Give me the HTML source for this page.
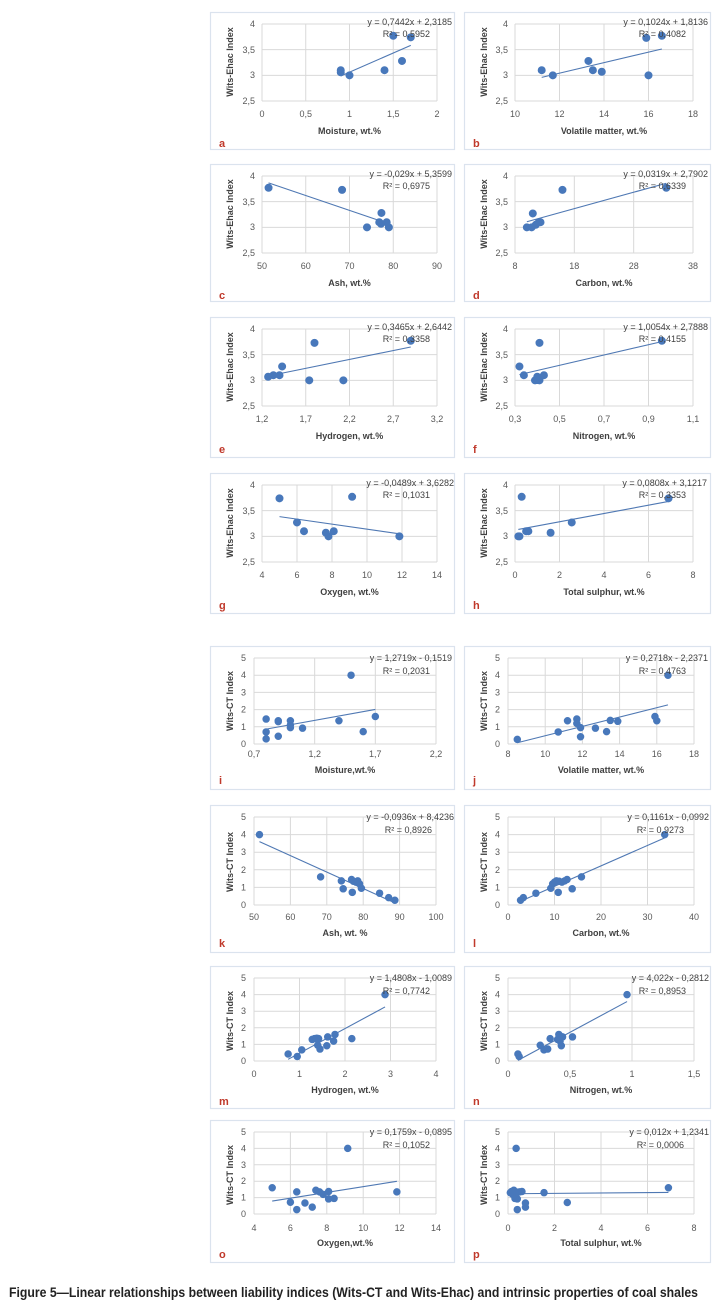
<!DOCTYPE html>
<html><head><meta charset="utf-8"><style>
html,body{margin:0;padding:0;background:#fff}
svg{display:block}
.pb{fill:#fff;stroke:#dbe3ee;stroke-width:1.2}
.g{stroke:#d9d9d9;stroke-width:1;fill:none;vector-effect:non-scaling-stroke}
.tl{stroke:#4f78b3;stroke-width:1.1;fill:none;vector-effect:non-scaling-stroke}
.pt{stroke:#4878bb;stroke-width:8;stroke-linecap:round;fill:none;vector-effect:non-scaling-stroke}
.pt2{stroke:#4878bb;stroke-width:7.5;stroke-linecap:round;fill:none;vector-effect:non-scaling-stroke}
text{font-family:"Liberation Sans",sans-serif}
.tk{font-size:9px;fill:#595959}
.yk{font-size:9px;fill:#595959;text-anchor:end}
.xk{font-size:9px;fill:#595959;text-anchor:middle}
.at{font-size:9px;font-weight:bold;fill:#404040;text-anchor:middle}
.eq{font-size:9px;fill:#404040;text-anchor:end}
.lt{font-size:11px;font-weight:bold;fill:#c0392b}
</style></head><body>
<svg width="727" height="1305" viewBox="0 0 727 1305" xmlns="http://www.w3.org/2000/svg">

<!-- a -->
<g transform="translate(210,12)">
<rect class="pb" x="0.5" y="0.5" width="244" height="137"/>
<text class="at" transform="translate(23,50) rotate(-90)">Wits-Ehac Index</text>
<text class="yk" x="45" y="15">4</text><text class="yk" x="45" y="41">3,5</text><text class="yk" x="45" y="66">3</text><text class="yk" x="45" y="92">2,5</text>
<text class="xk" x="52" y="105">0</text><text class="xk" x="95.75" y="105">0,5</text><text class="xk" x="139.5" y="105">1</text><text class="xk" x="183.25" y="105">1,5</text><text class="xk" x="227" y="105">2</text>
<svg x="52" y="12" width="175" height="77" viewBox="0 -4 2 1.5" preserveAspectRatio="none" overflow="visible">
<path class="g" d="M0 -4V-2.5M0.5 -4V-2.5M1 -4V-2.5M1.5 -4V-2.5M2 -4V-2.5M0 -4H2M0 -3.5H2M0 -3H2M0 -2.5H2"/>
<path class="tl" d="M0.9 -2.988L1.7 -3.584"/>
<path class="pt" d="M0.9 -3.1h0M0.9 -3.06h0M1 -3h0M1.4 -3.1h0M1.5 -3.77h0M1.6 -3.28h0M1.7 -3.74h0"/>
</svg>
<text class="eq" x="242" y="13">y = 0,7442x + 2,3185</text><text class="eq" x="220" y="25">R² = 0,5952</text>
<text class="at" x="139.5" y="122">Moisture, wt.%</text>
<text class="lt" x="9" y="135">a</text>
</g>

<!-- b -->
<g transform="translate(464,12)">
<rect class="pb" x="0.5" y="0.5" width="246" height="137"/>
<text class="at" transform="translate(23,50) rotate(-90)">Wits-Ehac Index</text>
<text class="yk" x="44" y="15">4</text><text class="yk" x="44" y="41">3,5</text><text class="yk" x="44" y="66">3</text><text class="yk" x="44" y="92">2,5</text>
<text class="xk" x="51" y="105">10</text><text class="xk" x="95.5" y="105">12</text><text class="xk" x="140" y="105">14</text><text class="xk" x="184.5" y="105">16</text><text class="xk" x="229" y="105">18</text>
<svg x="51" y="12" width="178" height="77" viewBox="10 -4 8 1.5" preserveAspectRatio="none" overflow="visible">
<path class="g" d="M10 -4V-2.5M12 -4V-2.5M14 -4V-2.5M16 -4V-2.5M18 -4V-2.5M10 -4H18M10 -3.5H18M10 -3H18M10 -2.5H18"/>
<path class="tl" d="M11.2 -2.96L16.6 -3.513"/>
<path class="pt" d="M11.2 -3.1h0M11.7 -3h0M13.3 -3.28h0M13.5 -3.1h0M13.9 -3.07h0M15.9 -3.73h0M16 -3h0M16.6 -3.77h0"/>
</svg>
<text class="eq" x="244" y="13">y = 0,1024x + 1,8136</text><text class="eq" x="222" y="25">R² = 0,4082</text>
<text class="at" x="140" y="122">Volatile matter, wt.%</text>
<text class="lt" x="9" y="135">b</text>
</g>

<!-- c -->
<g transform="translate(210,164)">
<rect class="pb" x="0.5" y="0.5" width="244" height="137"/>
<text class="at" transform="translate(23,50) rotate(-90)">Wits-Ehac Index</text>
<text class="yk" x="45" y="15">4</text><text class="yk" x="45" y="41">3,5</text><text class="yk" x="45" y="66">3</text><text class="yk" x="45" y="92">2,5</text>
<text class="xk" x="52" y="105">50</text><text class="xk" x="95.75" y="105">60</text><text class="xk" x="139.5" y="105">70</text><text class="xk" x="183.25" y="105">80</text><text class="xk" x="227" y="105">90</text>
<svg x="52" y="12" width="175" height="77" viewBox="50 -4 40 1.5" preserveAspectRatio="none" overflow="visible">
<path class="g" d="M50 -4V-2.5M60 -4V-2.5M70 -4V-2.5M80 -4V-2.5M90 -4V-2.5M50 -4H90M50 -3.5H90M50 -3H90M50 -2.5H90"/>
<path class="tl" d="M51.5 -3.866L79 -3.069"/>
<path class="pt" d="M51.5 -3.77h0M68.3 -3.73h0M74 -3h0M76.8 -3.1h0M77.2 -3.07h0M77.3 -3.28h0M78.5 -3.1h0M79 -3h0"/>
</svg>
<text class="eq" x="242" y="13">y = -0,029x + 5,3599</text><text class="eq" x="220" y="25">R² = 0,6975</text>
<text class="at" x="139.5" y="122">Ash, wt.%</text>
<text class="lt" x="9" y="135">c</text>
</g>

<!-- d -->
<g transform="translate(464,164)">
<rect class="pb" x="0.5" y="0.5" width="246" height="137"/>
<text class="at" transform="translate(23,50) rotate(-90)">Wits-Ehac Index</text>
<text class="yk" x="44" y="15">4</text><text class="yk" x="44" y="41">3,5</text><text class="yk" x="44" y="66">3</text><text class="yk" x="44" y="92">2,5</text>
<text class="xk" x="51" y="105">8</text><text class="xk" x="110.3" y="105">18</text><text class="xk" x="169.7" y="105">28</text><text class="xk" x="229" y="105">38</text>
<svg x="51" y="12" width="178" height="77" viewBox="8 -4 30 1.5" preserveAspectRatio="none" overflow="visible">
<path class="g" d="M8 -4V-2.5M18 -4V-2.5M28 -4V-2.5M38 -4V-2.5M8 -4H38M8 -3.5H38M8 -3H38M8 -2.5H38"/>
<path class="tl" d="M10 -3.109L33.5 -3.859"/>
<path class="pt" d="M10 -3h0M10.8 -3h0M11 -3.27h0M11.5 -3.05h0M12 -3.1h0M12.3 -3.1h0M16 -3.73h0M33.5 -3.77h0"/>
</svg>
<text class="eq" x="244" y="13">y = 0,0319x + 2,7902</text><text class="eq" x="222" y="25">R² = 0,6339</text>
<text class="at" x="140" y="122">Carbon, wt.%</text>
<text class="lt" x="9" y="135">d</text>
</g>

<!-- e -->
<g transform="translate(210,317)">
<rect class="pb" x="0.5" y="0.5" width="244" height="140"/>
<text class="at" transform="translate(23,50) rotate(-90)">Wits-Ehac Index</text>
<text class="yk" x="45" y="15">4</text><text class="yk" x="45" y="41">3,5</text><text class="yk" x="45" y="66">3</text><text class="yk" x="45" y="92">2,5</text>
<text class="xk" x="52" y="105">1,2</text><text class="xk" x="95.75" y="105">1,7</text><text class="xk" x="139.5" y="105">2,2</text><text class="xk" x="183.25" y="105">2,7</text><text class="xk" x="227" y="105">3,2</text>
<svg x="52" y="12" width="175" height="77" viewBox="1.2 -4 2 1.5" preserveAspectRatio="none" overflow="visible">
<path class="g" d="M1.2 -4V-2.5M1.7 -4V-2.5M2.2 -4V-2.5M2.7 -4V-2.5M3.2 -4V-2.5M1.2 -4H3.2M1.2 -3.5H3.2M1.2 -3H3.2M1.2 -2.5H3.2"/>
<path class="tl" d="M1.27 -3.084L2.9 -3.649"/>
<path class="pt" d="M1.27 -3.07h0M1.33 -3.1h0M1.4 -3.1h0M1.43 -3.27h0M1.74 -3h0M1.8 -3.73h0M2.13 -3h0M2.9 -3.77h0"/>
</svg>
<text class="eq" x="242" y="13">y = 0,3465x + 2,6442</text><text class="eq" x="220" y="25">R² = 0,3358</text>
<text class="at" x="139.5" y="122">Hydrogen, wt.%</text>
<text class="lt" x="9" y="136">e</text>
</g>

<!-- f -->
<g transform="translate(464,317)">
<rect class="pb" x="0.5" y="0.5" width="246" height="140"/>
<text class="at" transform="translate(23,50) rotate(-90)">Wits-Ehac Index</text>
<text class="yk" x="44" y="15">4</text><text class="yk" x="44" y="41">3,5</text><text class="yk" x="44" y="66">3</text><text class="yk" x="44" y="92">2,5</text>
<text class="xk" x="51" y="105">0,3</text><text class="xk" x="95.5" y="105">0,5</text><text class="xk" x="140" y="105">0,7</text><text class="xk" x="184.5" y="105">0,9</text><text class="xk" x="229" y="105">1,1</text>
<svg x="51" y="12" width="178" height="77" viewBox="0.3 -4 0.8 1.5" preserveAspectRatio="none" overflow="visible">
<path class="g" d="M0.3 -4V-2.5M0.5 -4V-2.5M0.7 -4V-2.5M0.9 -4V-2.5M1.1 -4V-2.5M0.3 -4H1.1M0.3 -3.5H1.1M0.3 -3H1.1M0.3 -2.5H1.1"/>
<path class="tl" d="M0.32 -3.111L0.96 -3.754"/>
<path class="pt" d="M0.32 -3.27h0M0.34 -3.1h0M0.39 -3h0M0.4 -3.07h0M0.41 -3h0M0.41 -3.73h0M0.43 -3.1h0M0.96 -3.77h0"/>
</svg>
<text class="eq" x="244" y="13">y = 1,0054x + 2,7888</text><text class="eq" x="222" y="25">R² = 0,4155</text>
<text class="at" x="140" y="122">Nitrogen, wt.%</text>
<text class="lt" x="9" y="136">f</text>
</g>

<!-- g -->
<g transform="translate(210,473)">
<rect class="pb" x="0.5" y="0.5" width="244" height="140"/>
<text class="at" transform="translate(23,50) rotate(-90)">Wits-Ehac Index</text>
<text class="yk" x="45" y="15">4</text><text class="yk" x="45" y="41">3,5</text><text class="yk" x="45" y="66">3</text><text class="yk" x="45" y="92">2,5</text>
<text class="xk" x="52" y="105">4</text><text class="xk" x="87" y="105">6</text><text class="xk" x="122" y="105">8</text><text class="xk" x="157" y="105">10</text><text class="xk" x="192" y="105">12</text><text class="xk" x="227" y="105">14</text>
<svg x="52" y="12" width="175" height="77" viewBox="4 -4 10 1.5" preserveAspectRatio="none" overflow="visible">
<path class="g" d="M4 -4V-2.5M6 -4V-2.5M8 -4V-2.5M10 -4V-2.5M12 -4V-2.5M14 -4V-2.5M4 -4H14M4 -3.5H14M4 -3H14M4 -2.5H14"/>
<path class="tl" d="M5 -3.384L11.85 -3.049"/>
<path class="pt" d="M5 -3.74h0M6 -3.27h0M6.4 -3.1h0M7.65 -3.07h0M7.8 -3h0M8.1 -3.1h0M9.15 -3.77h0M11.85 -3h0"/>
</svg>
<text class="eq" x="244" y="13">y = -0,0489x + 3,6282</text><text class="eq" x="220" y="25">R² = 0,1031</text>
<text class="at" x="139.5" y="122">Oxygen, wt.%</text>
<text class="lt" x="9" y="136">g</text>
</g>

<!-- h -->
<g transform="translate(464,473)">
<rect class="pb" x="0.5" y="0.5" width="246" height="140"/>
<text class="at" transform="translate(23,50) rotate(-90)">Wits-Ehac Index</text>
<text class="yk" x="44" y="15">4</text><text class="yk" x="44" y="41">3,5</text><text class="yk" x="44" y="66">3</text><text class="yk" x="44" y="92">2,5</text>
<text class="xk" x="51" y="105">0</text><text class="xk" x="95.5" y="105">2</text><text class="xk" x="140" y="105">4</text><text class="xk" x="184.5" y="105">6</text><text class="xk" x="229" y="105">8</text>
<svg x="51" y="12" width="178" height="77" viewBox="0 -4 8 1.5" preserveAspectRatio="none" overflow="visible">
<path class="g" d="M0 -4V-2.5M2 -4V-2.5M4 -4V-2.5M6 -4V-2.5M8 -4V-2.5M0 -4H8M0 -3.5H8M0 -3H8M0 -2.5H8"/>
<path class="tl" d="M0.15 -3.134L6.9 -3.679"/>
<path class="pt" d="M0.15 -3h0M0.2 -3h0M0.3 -3.77h0M0.5 -3.1h0M0.6 -3.1h0M1.6 -3.07h0M2.55 -3.27h0M6.9 -3.74h0"/>
</svg>
<text class="eq" x="243" y="13">y = 0,0808x + 3,1217</text><text class="eq" x="222" y="25">R² = 0,3353</text>
<text class="at" x="140" y="122">Total sulphur, wt.%</text>
<text class="lt" x="9" y="136">h</text>
</g>

<!-- i -->
<g transform="translate(210,646)">
<rect class="pb" x="0.5" y="0.5" width="244" height="143"/>
<text class="at" transform="translate(23,55) rotate(-90)">Wits-CT Index</text>
<text class="yk" x="36" y="15">5</text><text class="yk" x="36" y="32">4</text><text class="yk" x="36" y="49.5">3</text><text class="yk" x="36" y="66.5">2</text><text class="yk" x="36" y="84">1</text><text class="yk" x="36" y="101">0</text>
<text class="xk" x="44" y="111">0,7</text><text class="xk" x="104.7" y="111">1,2</text><text class="xk" x="165.3" y="111">1,7</text><text class="xk" x="226" y="111">2,2</text>
<svg x="44" y="12" width="182" height="86" viewBox="0.7 -5 1.5 5" preserveAspectRatio="none" overflow="visible">
<path class="g" d="M0.7 -5V0M1.2 -5V0M1.7 -5V0M2.2 -5V0M0.7 -5H2.2M0.7 -4H2.2M0.7 -3H2.2M0.7 -2H2.2M0.7 -1H2.2M0.7 0H2.2"/>
<path class="tl" d="M0.8 -0.866L1.7 -2.01"/>
<path class="pt2" d="M0.8 -1.45h0M0.8 -0.7h0M0.8 -0.3h0M0.9 -1.35h0M0.9 -1.3h0M0.9 -0.45h0M1 -1.35h0M1 -1.1h0M1 -0.95h0M1.1 -0.92h0M1.4 -1.35h0M1.5 -4h0M1.6 -0.72h0M1.7 -1.6h0"/>
</svg>
<text class="eq" x="242" y="15">y = 1,2719x - 0,1519</text><text class="eq" x="220" y="28">R² = 0,2031</text>
<text class="at" x="135" y="127">Moisture,wt.%</text>
<text class="lt" x="9" y="138">i</text>
</g>

<!-- j -->
<g transform="translate(464,646)">
<rect class="pb" x="0.5" y="0.5" width="246" height="143"/>
<text class="at" transform="translate(23,55) rotate(-90)">Wits-CT Index</text>
<text class="yk" x="36" y="15">5</text><text class="yk" x="36" y="32">4</text><text class="yk" x="36" y="49.5">3</text><text class="yk" x="36" y="66.5">2</text><text class="yk" x="36" y="84">1</text><text class="yk" x="36" y="101">0</text>
<text class="xk" x="44" y="111">8</text><text class="xk" x="81.2" y="111">10</text><text class="xk" x="118.4" y="111">12</text><text class="xk" x="155.6" y="111">14</text><text class="xk" x="192.8" y="111">16</text><text class="xk" x="230" y="111">18</text>
<svg x="44" y="12" width="186" height="86" viewBox="8 -5 10 5" preserveAspectRatio="none" overflow="visible">
<path class="g" d="M8 -5V0M10 -5V0M12 -5V0M14 -5V0M16 -5V0M18 -5V0M8 -5H18M8 -4H18M8 -3H18M8 -2H18M8 -1H18M8 0H18"/>
<path class="tl" d="M8.5 -0.073L16.6 -2.275"/>
<path class="pt2" d="M8.5 -0.27h0M10.7 -0.7h0M11.2 -1.35h0M11.7 -1.45h0M11.7 -1.2h0M11.9 -0.95h0M11.9 -0.42h0M12.7 -0.92h0M13.3 -0.72h0M13.5 -1.37h0M13.9 -1.32h0M15.9 -1.6h0M16 -1.35h0M16.6 -4h0"/>
</svg>
<text class="eq" x="244" y="15">y = 0,2718x - 2,2371</text><text class="eq" x="222" y="28">R² = 0,4763</text>
<text class="at" x="137" y="127">Volatile matter, wt.%</text>
<text class="lt" x="9" y="138">j</text>
</g>

<!-- k -->
<g transform="translate(210,805)">
<rect class="pb" x="0.5" y="0.5" width="244" height="147"/>
<text class="at" transform="translate(23,57) rotate(-90)">Wits-CT Index</text>
<text class="yk" x="36" y="15">5</text><text class="yk" x="36" y="32.6">4</text><text class="yk" x="36" y="50.2">3</text><text class="yk" x="36" y="67.8">2</text><text class="yk" x="36" y="85.4">1</text><text class="yk" x="36" y="103">0</text>
<text class="xk" x="44" y="115">50</text><text class="xk" x="80.4" y="115">60</text><text class="xk" x="116.8" y="115">70</text><text class="xk" x="153.2" y="115">80</text><text class="xk" x="189.6" y="115">90</text><text class="xk" x="226" y="115">100</text>
<svg x="44" y="12" width="182" height="88" viewBox="50 -5 50 5" preserveAspectRatio="none" overflow="visible">
<path class="g" d="M50 -5V0M60 -5V0M70 -5V0M80 -5V0M90 -5V0M100 -5V0M50 -5H100M50 -4H100M50 -3H100M50 -2H100M50 -1H100M50 0H100"/>
<path class="tl" d="M51.5 -3.603L88.7 -0.121"/>
<path class="pt2" d="M51.5 -4h0M68.3 -1.6h0M74 -1.37h0M74.5 -0.92h0M76.8 -1.45h0M77 -0.72h0M77.3 -1.35h0M78 -1.3h0M78.5 -1.37h0M79 -1.2h0M79.5 -0.95h0M84.5 -0.67h0M87 -0.42h0M88.7 -0.27h0"/>
</svg>
<text class="eq" x="244" y="15">y = -0,0936x + 8,4236</text><text class="eq" x="222" y="28">R² = 0,8926</text>
<text class="at" x="135" y="131">Ash, wt. %</text>
<text class="lt" x="9" y="142">k</text>
</g>

<!-- l -->
<g transform="translate(464,805)">
<rect class="pb" x="0.5" y="0.5" width="246" height="147"/>
<text class="at" transform="translate(23,57) rotate(-90)">Wits-CT Index</text>
<text class="yk" x="36" y="15">5</text><text class="yk" x="36" y="32.6">4</text><text class="yk" x="36" y="50.2">3</text><text class="yk" x="36" y="67.8">2</text><text class="yk" x="36" y="85.4">1</text><text class="yk" x="36" y="103">0</text>
<text class="xk" x="44" y="115">0</text><text class="xk" x="90.5" y="115">10</text><text class="xk" x="137" y="115">20</text><text class="xk" x="183.5" y="115">30</text><text class="xk" x="230" y="115">40</text>
<svg x="44" y="12" width="186" height="88" viewBox="0 -5 40 5" preserveAspectRatio="none" overflow="visible">
<path class="g" d="M0 -5V0M10 -5V0M20 -5V0M30 -5V0M40 -5V0M0 -5H40M0 -4H40M0 -3H40M0 -2H40M0 -1H40M0 0H40"/>
<path class="tl" d="M2.7 -0.214L33.7 -3.813"/>
<path class="pt2" d="M2.7 -0.27h0M3.3 -0.42h0M6 -0.67h0M9.2 -0.95h0M9.6 -1.2h0M10 -1.3h0M10.4 -1.37h0M10.8 -0.72h0M11 -1.35h0M11.6 -1.3h0M12.2 -1.37h0M12.7 -1.45h0M13.8 -0.92h0M15.8 -1.6h0M33.7 -4h0"/>
</svg>
<text class="eq" x="245" y="15">y = 0,1161x - 0,0992</text><text class="eq" x="220" y="28">R² = 0,9273</text>
<text class="at" x="137" y="131">Carbon, wt.%</text>
<text class="lt" x="9" y="142">l</text>
</g>

<!-- m -->
<g transform="translate(210,966)">
<rect class="pb" x="0.5" y="0.5" width="244" height="142"/>
<text class="at" transform="translate(23,55) rotate(-90)">Wits-CT Index</text>
<text class="yk" x="36" y="15">5</text><text class="yk" x="36" y="31.6">4</text><text class="yk" x="36" y="48.2">3</text><text class="yk" x="36" y="64.8">2</text><text class="yk" x="36" y="81.4">1</text><text class="yk" x="36" y="98">0</text>
<text class="xk" x="44" y="111">0</text><text class="xk" x="89.5" y="111">1</text><text class="xk" x="135" y="111">2</text><text class="xk" x="180.5" y="111">3</text><text class="xk" x="226" y="111">4</text>
<svg x="44" y="12" width="182" height="83" viewBox="0 -5 4 5" preserveAspectRatio="none" overflow="visible">
<path class="g" d="M0 -5V0M1 -5V0M2 -5V0M3 -5V0M4 -5V0M0 -5H4M0 -4H4M0 -3H4M0 -2H4M0 -1H4M0 0H4"/>
<path class="tl" d="M0.75 -0.102L2.88 -3.256"/>
<path class="pt2" d="M0.75 -0.42h0M0.95 -0.27h0M1.05 -0.67h0M1.28 -1.3h0M1.33 -1.35h0M1.38 -1.37h0M1.42 -1.35h0M1.4 -0.95h0M1.45 -0.72h0M1.6 -0.92h0M1.62 -1.45h0M1.75 -1.2h0M1.78 -1.6h0M2.15 -1.35h0M2.88 -4h0"/>
</svg>
<text class="eq" x="242" y="15">y = 1,4808x - 1,0089</text><text class="eq" x="220" y="28">R² = 0,7742</text>
<text class="at" x="135" y="127">Hydrogen, wt.%</text>
<text class="lt" x="9" y="139">m</text>
</g>

<!-- n -->
<g transform="translate(464,966)">
<rect class="pb" x="0.5" y="0.5" width="246" height="142"/>
<text class="at" transform="translate(23,55) rotate(-90)">Wits-CT Index</text>
<text class="yk" x="36" y="15">5</text><text class="yk" x="36" y="31.6">4</text><text class="yk" x="36" y="48.2">3</text><text class="yk" x="36" y="64.8">2</text><text class="yk" x="36" y="81.4">1</text><text class="yk" x="36" y="98">0</text>
<text class="xk" x="44" y="111">0</text><text class="xk" x="106" y="111">0,5</text><text class="xk" x="168" y="111">1</text><text class="xk" x="230" y="111">1,5</text>
<svg x="44" y="12" width="186" height="83" viewBox="0 -5 1.5 5" preserveAspectRatio="none" overflow="visible">
<path class="g" d="M0 -5V0M0.5 -5V0M1 -5V0M1.5 -5V0M0 -5H1.5M0 -4H1.5M0 -3H1.5M0 -2H1.5M0 -1H1.5M0 0H1.5"/>
<path class="tl" d="M0.08 -0.04L0.96 -3.58"/>
<path class="pt2" d="M0.08 -0.42h0M0.09 -0.27h0M0.26 -0.95h0M0.29 -0.67h0M0.32 -0.72h0M0.34 -1.35h0M0.4 -1.3h0M0.41 -1.6h0M0.42 -1.2h0M0.43 -0.92h0M0.44 -1.45h0M0.52 -1.45h0M0.96 -4h0"/>
</svg>
<text class="eq" x="245" y="15">y = 4,022x - 0,2812</text><text class="eq" x="222" y="28">R² = 0,8953</text>
<text class="at" x="137" y="127">Nitrogen, wt.%</text>
<text class="lt" x="9" y="139">n</text>
</g>

<!-- o -->
<g transform="translate(210,1120)">
<rect class="pb" x="0.5" y="0.5" width="244" height="142"/>
<text class="at" transform="translate(23,55) rotate(-90)">Wits-CT Index</text>
<text class="yk" x="36" y="15">5</text><text class="yk" x="36" y="31.4">4</text><text class="yk" x="36" y="47.8">3</text><text class="yk" x="36" y="64.2">2</text><text class="yk" x="36" y="80.6">1</text><text class="yk" x="36" y="97">0</text>
<text class="xk" x="44" y="111">4</text><text class="xk" x="80.4" y="111">6</text><text class="xk" x="116.8" y="111">8</text><text class="xk" x="153.2" y="111">10</text><text class="xk" x="189.6" y="111">12</text><text class="xk" x="226" y="111">14</text>
<svg x="44" y="12" width="182" height="82" viewBox="4 -5 10 5" preserveAspectRatio="none" overflow="visible">
<path class="g" d="M4 -5V0M6 -5V0M8 -5V0M10 -5V0M12 -5V0M14 -5V0M4 -5H14M4 -4H14M4 -3H14M4 -2H14M4 -1H14M4 0H14"/>
<path class="tl" d="M5 -0.79L11.85 -1.995"/>
<path class="pt2" d="M5 -1.6h0M6 -0.72h0M6.35 -1.35h0M6.35 -0.27h0M6.8 -0.67h0M7.2 -0.42h0M7.4 -1.45h0M7.6 -1.35h0M7.8 -1.2h0M8.1 -1.37h0M8.1 -0.92h0M8.4 -0.95h0M9.15 -4h0M11.85 -1.35h0"/>
</svg>
<text class="eq" x="242" y="15">y = 0,1759x - 0,0895</text><text class="eq" x="220" y="28">R² = 0,1052</text>
<text class="at" x="135" y="126">Oxygen,wt.%</text>
<text class="lt" x="9" y="138">o</text>
</g>

<!-- p -->
<g transform="translate(464,1120)">
<rect class="pb" x="0.5" y="0.5" width="246" height="142"/>
<text class="at" transform="translate(23,55) rotate(-90)">Wits-CT Index</text>
<text class="yk" x="36" y="15">5</text><text class="yk" x="36" y="31.4">4</text><text class="yk" x="36" y="47.8">3</text><text class="yk" x="36" y="64.2">2</text><text class="yk" x="36" y="80.6">1</text><text class="yk" x="36" y="97">0</text>
<text class="xk" x="44" y="111">0</text><text class="xk" x="90.5" y="111">2</text><text class="xk" x="137" y="111">4</text><text class="xk" x="183.5" y="111">6</text><text class="xk" x="230" y="111">8</text>
<svg x="44" y="12" width="186" height="82" viewBox="0 -5 8 5" preserveAspectRatio="none" overflow="visible">
<path class="g" d="M0 -5V0M2 -5V0M4 -5V0M6 -5V0M8 -5V0M0 -5H8M0 -4H8M0 -3H8M0 -2H8M0 -1H8M0 0H8"/>
<path class="tl" d="M0.1 -1.235L6.9 -1.317"/>
<path class="pt2" d="M0.1 -1.3h0M0.15 -1.37h0M0.2 -1.2h0M0.25 -1.45h0M0.3 -0.95h0M0.35 -4h0M0.35 -1.35h0M0.4 -0.92h0M0.4 -0.27h0M0.5 -1.35h0M0.6 -1.37h0M0.75 -0.67h0M0.75 -0.42h0M1.55 -1.3h0M2.55 -0.7h0M6.9 -1.6h0"/>
</svg>
<text class="eq" x="245" y="15">y = 0,012x + 1,2341</text><text class="eq" x="220" y="28">R² = 0,0006</text>
<text class="at" x="137" y="126">Total sulphur, wt.%</text>
<text class="lt" x="9" y="138">p</text>
</g>

<text x="9" y="1297" font-size="13.5" font-weight="bold" fill="#222" textLength="689" lengthAdjust="spacingAndGlyphs">Figure 5—Linear relationships between liability indices (Wits-CT and Wits-Ehac) and intrinsic properties of coal shales</text>
</svg>
</body></html>
